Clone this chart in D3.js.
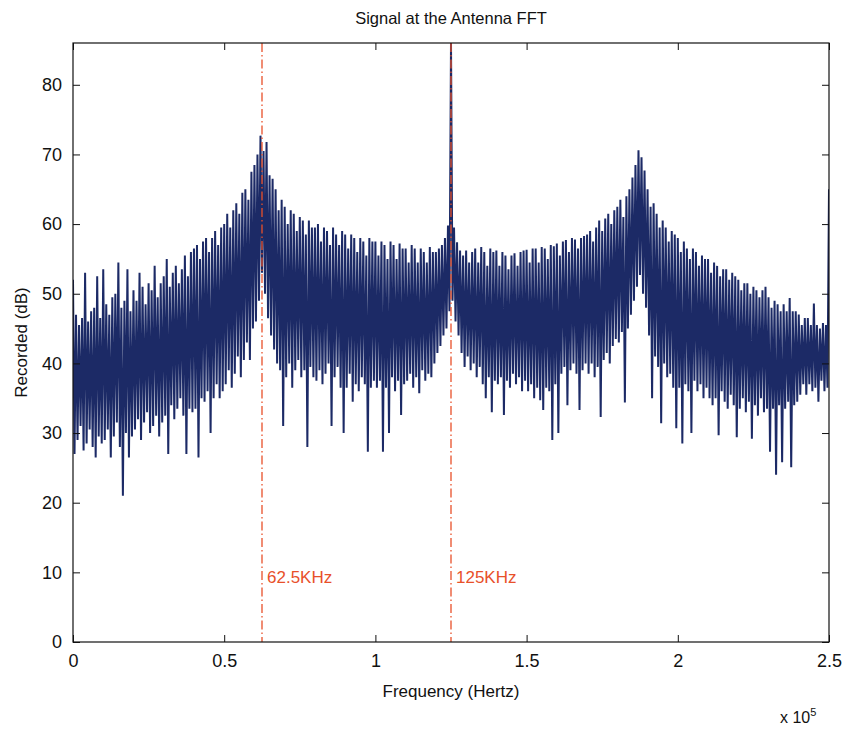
<!DOCTYPE html>
<html>
<head>
<meta charset="utf-8">
<script src="https://cdn.jsdelivr.net/npm/d3@7"></script>
<style>
    body { margin: 0; background: #fff; }
    svg text { font-family: "Liberation Sans", Arial, sans-serif; fill: #111; }
</style>
</head>
<body>
<div id="chart"></div>
<script>
/*
    Spectrum of the antenna signal.
    peaks[i] is at i*1000 Hz, dips[i] at i*1000+500 Hz (dB).
*/

var peaks = [
    52, 47, 45.5, 46.5, 53, 46, 47.5, 48, 52.5, 46.5,
    53.5, 48.5, 47, 49.5, 50, 54.5, 48, 49, 53.5, 47.5,
    50.5, 49, 53, 51, 48.5, 51.5, 50.5, 54, 49.5, 51.5,
    52.5, 55, 51, 53, 54, 51.5, 53.5, 55.5, 52.5, 56,
    56.5, 57, 55, 57.5, 58, 56, 58, 59, 57, 59.5,
    60, 61.5, 59.5, 62, 63, 61.5, 64.5, 65, 63.5, 67.5,
    68.5, 70, 72.7, 70.5, 71.8, 67, 66.5, 65, 62, 63.5,
    62.5, 60, 62, 61.5, 59, 61, 60.5, 58.5, 60.5, 59.5,
    59.5, 60, 57.5, 59.5, 59, 57, 59.5, 58.5, 57, 59,
    58.5, 56.5, 58.5, 58, 56, 58, 57.5, 55.5, 58, 57.5,
    57.5, 55.5, 57.5, 57, 55, 57.5, 57, 55, 57.2, 56.5,
    56.5, 54.5, 57, 56.5, 54.5, 56.5, 56, 54.5, 56.7, 56,
    56, 56.5, 57, 58, 59.8, 86, 59.5, 57.4, 56.2, 55.5,
    56.2, 54.5, 56, 56.5, 54.5, 56.7, 56, 54, 56.5, 56,
    56.2, 54, 56, 55.5, 53.5, 55.5, 55.8, 54, 56, 56.2,
    56.3, 54.5, 56.5, 56.5, 54.5, 56.7, 56.5, 55, 57, 56.8,
    57.2, 55.5, 57.5, 57.7, 56, 58, 57.8, 56.5, 58, 58.3,
    58.5, 59, 57.5, 59.5, 60.5, 59, 60.8, 61.5, 60, 62,
    62.5, 63.5, 61, 64, 65, 66.7, 68.5, 70.6, 69.6, 67.7,
    65, 62.5, 63, 61.5, 59.5, 60.5, 59.5, 57.5, 59, 58.5,
    58, 56, 57.5, 56.5, 55, 56.5, 56, 54, 55.5, 55,
    55, 53, 54.5, 54, 52.5, 53.5, 53.5, 52, 53, 52.5,
    52, 50.5, 51.5, 51.5, 50, 51, 50.5, 49.5, 50.5, 51,
    49.5, 48, 49, 48.5, 47.5, 48.5, 47.5, 49.4, 47.5, 47.5,
    47, 45.5, 46.5, 46.5, 45.5, 48.6, 45.5, 45, 45.8, 45.5
];

var dips = [
    27, 29, 31, 27.5, 28.5, 30.5, 28, 26.5, 29.5, 28.5,
    29, 30.5, 26.5, 29.5, 31.5, 28, 21, 30, 26.5, 29.5,
    30.5, 32, 29, 31.5, 33, 30, 31, 32.5, 29.5, 31.5,
    32.5, 27, 34, 32, 33.5, 35, 32.5, 27, 33.5, 33,
    33.5, 26.5, 35, 34.5, 36, 30, 35, 37, 35, 36,
    37, 39, 36.5, 38.5, 41, 38, 40.5, 43, 40.5, 45,
    46, 49, 53, 50, 46.5, 44, 42, 40, 39, 31,
    38, 40, 36.5, 39, 40.5, 38, 39, 28, 39.5, 38,
    37.5, 39, 37, 38.5, 40, 31, 38, 39.5, 36.5, 30,
    36.5, 38.5, 34.5, 37, 36, 38, 37, 27.3, 36.5, 37.5,
    36.5, 37.5, 27.3, 36.5, 30, 38, 36, 37.5, 32.6, 37,
    37.5, 38.5, 36.5, 38, 35.7, 39, 37.5, 38.5, 38, 40,
    41.5, 42.5, 44, 45, 47.5, 49, 46, 44, 41.5, 39.5,
    41, 39, 40, 38, 39.5, 37, 35, 38, 33, 37.5,
    37, 38, 32.6, 37.5, 36.5, 38.5, 37, 38, 36, 37.5,
    36, 37, 35, 36.5, 34.7, 33.3, 36.5, 36, 29, 37,
    30, 38.5, 39.5, 34, 39, 40, 38.5, 33.3, 39, 40,
    38.5, 40, 38, 39.5, 32.3, 40.5, 41.5, 40, 42.5, 43.5,
    43, 44.5, 34.4, 45, 47, 49, 51, 52.7, 50, 48,
    44, 35, 41, 39.5, 31.4, 40, 38, 38.5, 36.5, 30.7,
    36.5, 28.5, 37, 36, 30, 37.5, 36, 37, 35, 36.5,
    35, 34, 35, 29.7, 36, 34.5, 33.5, 35.5, 34, 29.4,
    33.5, 35, 33, 34.5, 29.2, 34, 32.5, 35, 33, 33.5,
    27.3, 33.5, 24, 34, 25.8, 33.5, 34.5, 25.1, 34, 34.5,
    35.5, 37, 35.5, 37, 36, 36.5, 34.5, 37.5, 36, 36.5
];

var lastBin = { f: 250000, db: 65 };   // the edge bin at 2.5e5

var xTicks = [0, 50000, 100000, 150000, 200000, 250000];
var xTickLabels = ["0", "0.5", "1", "1.5", "2", "2.5"];
var yTicks = [0, 10, 20, 30, 40, 50, 60, 70, 80];

var markers = [
    { f: 62500, label: "62.5KHz" },
    { f: 125000, label: "125KHz" }
];

var W = 848, H = 731;
var margin = { top: 43, right: 19, bottom: 89, left: 73 };
var iw = W - margin.left - margin.right;
var ih = H - margin.top - margin.bottom;

var x = d3.scaleLinear().domain([0, 250000]).range([0, iw]);
var y = d3.scaleLinear().domain([0, 86]).range([ih, 0]);

// line points: peak / dip alternating
var points = [];
peaks.forEach(function(p, i) {
    points.push({ f: i * 1000, db: p });
    points.push({ f: i * 1000 + 500, db: dips[i] });
});
points.push(lastBin);

var svg = d3.select("#chart").append("svg")
    .attr("width", W)
    .attr("height", H);

var g = svg.append("g")
    .attr("transform", "translate(" + margin.left + "," + margin.top + ")");

g.append("defs").append("clipPath")
    .attr("id", "plotclip")
    .append("rect")
        .attr("width", iw)
        .attr("height", ih);

///////////////////////
// signal
///////////////////////

var line = d3.line()
    .x(function(d) { return x(d.f); })
    .y(function(d) { return y(d.db); });

g.append("path")
    .datum(points)
    .attr("clip-path", "url(#plotclip)")
    .attr("d", line)
    .attr("fill", "none")
    .attr("stroke", "#1c2a66")
    .attr("stroke-width", 2)
    .attr("stroke-linejoin", "bevel");

///////////////////////
// red markers
///////////////////////

var mk = g.selectAll(".marker")
    .data(markers)
    .enter().append("g")
        .attr("class", "marker");

mk.append("line")
    .attr("x1", function(d) { return x(d.f); })
    .attr("x2", function(d) { return x(d.f); })
    .attr("y1", 0)
    .attr("y2", ih)
    .attr("stroke", "#e8502a")
    .attr("stroke-width", 1.3)
    .attr("stroke-dasharray", "9,3,1.5,3");

mk.append("text")
    .attr("x", function(d) { return x(d.f) + 5; })
    .attr("y", y(8.4))
    .attr("font-size", "17px")
    .style("fill", "#e8502a")
    .text(function(d) { return d.label; });

///////////////////////
// axes (box with inward ticks, like matlab)
///////////////////////

var tl = 7;

var xAxis = d3.axisBottom(x)
    .tickValues(xTicks)
    .tickSizeInner(-tl)
    .tickSizeOuter(0)
    .tickPadding(12)
    .tickFormat(function(d, i) { return xTickLabels[i]; });

var yAxis = d3.axisLeft(y)
    .tickValues(yTicks)
    .tickSizeInner(-tl)
    .tickSizeOuter(0)
    .tickPadding(11);

var gx = g.append("g")
    .attr("transform", "translate(0," + ih + ")")
    .call(xAxis);

var gy = g.append("g").call(yAxis);

g.append("g")
    .call(d3.axisTop(x).tickValues(xTicks).tickSizeInner(-tl).tickSizeOuter(0).tickFormat(""));

g.append("g")
    .attr("transform", "translate(" + iw + ",0)")
    .call(d3.axisRight(y).tickValues(yTicks).tickSizeInner(-tl).tickSizeOuter(0).tickFormat(""));

g.selectAll(".domain").remove();
g.selectAll(".tick line").attr("stroke", "#111").attr("stroke-width", 1);
g.selectAll(".tick text")
    .attr("font-size", "18px")
    .attr("font-family", "Liberation Sans, Arial, sans-serif")
    .attr("fill", "#111");

g.append("rect")
    .attr("width", iw)
    .attr("height", ih)
    .attr("fill", "none")
    .attr("stroke", "#111")
    .attr("stroke-width", 1.2);

///////////////////////
// texts
///////////////////////

svg.append("text")
    .attr("x", margin.left + iw / 2)
    .attr("y", 24)
    .attr("text-anchor", "middle")
    .attr("font-size", "16.5px")
    .text("Signal at the Antenna FFT");

svg.append("text")
    .attr("x", margin.left + iw / 2)
    .attr("y", 697)
    .attr("text-anchor", "middle")
    .attr("font-size", "17px")
    .text("Frequency (Hertz)");

svg.append("text")
    .attr("transform", "translate(27," + (margin.top + ih / 2) + ") rotate(-90)")
    .attr("text-anchor", "middle")
    .attr("font-size", "17px")
    .text("Recorded (dB)");

var exp = svg.append("text")
    .attr("x", 780)
    .attr("y", 723)
    .attr("font-size", "16px");
exp.append("tspan").text("x 10");
exp.append("tspan")
    .attr("dy", -7)
    .attr("font-size", "11px")
    .text("5");
</script>
</body>
</html>
